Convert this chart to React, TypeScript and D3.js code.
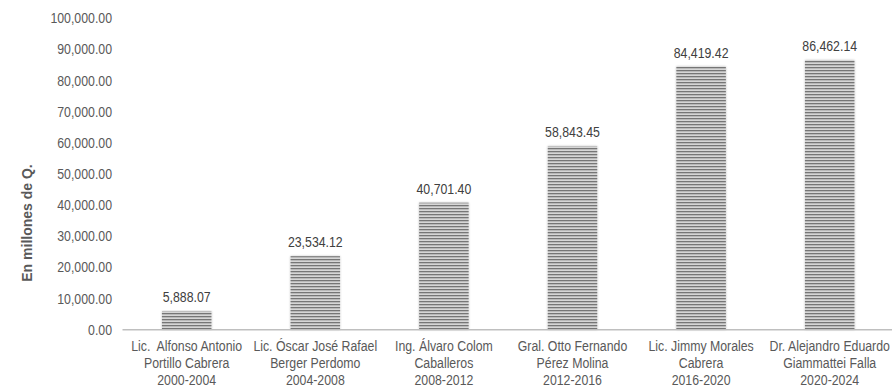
import React from "react";
import * as d3 from "d3";

const categories: string[][] = [
  ["Lic.  Alfonso Antonio", "Portillo Cabrera", "2000-2004"],
  ["Lic. Óscar José Rafael", "Berger Perdomo", "2004-2008"],
  ["Ing. Álvaro Colom", "Caballeros", "2008-2012"],
  ["Gral. Otto Fernando", "Pérez Molina", "2012-2016"],
  ["Lic. Jimmy Morales", "Cabrera", "2016-2020"],
  ["Dr. Alejandro Eduardo", "Giammattei Falla", "2020-2024"],
];
const values: number[] = [5888.07, 23534.12, 40701.4, 58843.45, 84419.42, 86462.14];
const yTicks: number[] = [0, 10000, 20000, 30000, 40000, 50000, 60000, 70000, 80000, 90000, 100000];
const yTitle = "En millones de Q.";

const W = 892;
const H = 388;
const FONT = "'Liberation Sans', Arial, sans-serif";
const NARROW = 0.85;

function NText(props: { x: number; y: number; anchor: string; size: number; fill: string; children: React.ReactNode }) {
  return (
    <text
      transform={`translate(${props.x},${props.y}) scale(${NARROW},1)`}
      textAnchor={props.anchor}
      fontSize={props.size}
      fill={props.fill}
      style={{ whiteSpace: "pre" }}
    >
      {props.children}
    </text>
  );
}

export default function App() {
  const x = d3
    .scaleBand<number>()
    .domain(d3.range(values.length))
    .range([122.4, 894])
    .paddingInner(0.615)
    .paddingOuter(0.3075);
  const y = d3.scaleLinear().domain([0, 100000]).range([329.5, 18]);
  const fmt = d3.format(",.2f");
  const bw = x.bandwidth();

  return (
    <svg
      width={W}
      height={H}
      style={{ position: "absolute", left: 0, top: 0, display: "block" }}
      fontFamily={FONT}
    >
      <defs>
        <pattern id="stripes" patternUnits="userSpaceOnUse" width={8} height={3}>
          <rect x={0} y={0} width={8} height={3} fill="#d6d6d6" />
          <rect x={0} y={1} width={8} height={1.3} fill="#767676" />
        </pattern>
        <filter id="sh" x="-20%" y="-5%" width="140%" height="110%">
          <feGaussianBlur in="SourceAlpha" stdDeviation={1.2} />
          <feComponentTransfer>
            <feFuncA type="linear" slope={0.25} />
          </feComponentTransfer>
          <feMerge>
            <feMergeNode />
            <feMergeNode in="SourceGraphic" />
          </feMerge>
        </filter>
      </defs>
      <rect width={W} height={H} fill="#ffffff" />
      {yTicks.map((t) => (
        <NText key={t} x={112} y={y(t) + 5.2} anchor="end" size={14.5} fill="#595959">
          {fmt(t)}
        </NText>
      ))}
      <text
        transform={`translate(32,223) rotate(-90)`}
        textAnchor="middle"
        fontSize={14}
        fontWeight="bold"
        fill="#595959"
      >
        {yTitle}
      </text>
      {values.map((v, i) => (
        <g key={i}>
          <rect
            x={x(i)!}
            y={y(v)}
            width={bw}
            height={y(0) - y(v)}
            fill="url(#stripes)"
            filter="url(#sh)"
          />
          <NText x={x(i)! + bw / 2} y={y(v) - 9} anchor="middle" size={14.5} fill="#404040">
            {fmt(v)}
          </NText>
        </g>
      ))}
      <line x1={122.5} x2={W} y1={329.8} y2={329.8} stroke="#bfbfbf" strokeWidth={1.6} />
      {categories.map((lines, i) => (
        <g key={i}>
          {lines.map((l, j) => (
            <NText key={j} x={x(i)! + bw / 2} y={350.5 + j * 17.2} anchor="middle" size={14.5} fill="#595959">
              {l}
            </NText>
          ))}
        </g>
      ))}
    </svg>
  );
}
